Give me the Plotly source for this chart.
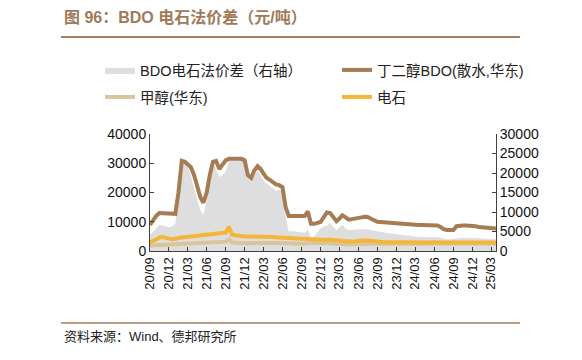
import plotly.graph_objects as go

# ---------------- data (semi-monthly, 2020-09 .. 2025-03) ----------------
dates = []
for yr in range(2020, 2026):
    for mo in range(1, 13):
        if (yr == 2020 and mo < 9) or (yr == 2025 and mo > 3):
            continue
        dates.append(f"{yr}-{mo:02d}-01")
        dates.append(f"{yr}-{mo:02d}-16")
dates[-1] = "2025-03-25"

bdo = [8900, 10500, 12000, 13000, 13000, 12900, 13000, 12800, 12700, 20000,
       30800, 30500, 29800, 28700, 26000, 22000, 18500, 16500, 20000, 26000,
       30500, 30800, 28000, 29500, 31000, 31500, 31500, 31500, 31500, 31500,
       31000, 26000, 25000, 27500, 29000, 28000, 26500, 25000, 24300, 23500,
       22800, 22500, 21800, 15000, 12000, 12000, 12000, 12000, 12000, 12000,
       13500, 9300, 9300, 9600, 9900, 11500, 13200, 13000, 11500, 10200,
       11000, 12200, 11500, 10700, 10900, 11000, 11300, 11500, 11700, 11600,
       11000, 10500, 10000, 9900, 9800, 9600, 9500, 9400, 9400, 9300,
       9200, 9100, 9000, 8900, 8900, 8900, 8900, 8900, 8900, 8900,
       8800, 8700, 8200, 7500, 7200, 7200, 7200, 8500, 8700, 8700,
       8700, 8700, 8600, 8500, 8200, 8100, 8000, 7900, 7800, 7700]

carbide = [3000, 3400, 3900, 4600, 4800, 4500, 4100, 4000, 4200, 4500,
           4600, 4700, 4800, 4900, 5000, 5100, 5200, 5300, 5400, 5500,
           5600, 5700, 5800, 5900, 6300, 8300, 5600, 5400, 5200, 5100,
           5000, 5000, 5000, 5100, 5000, 5000, 4900, 4900, 4900, 4800,
           4700, 4600, 4500, 4400, 4300, 4300, 4300, 4300, 4200, 4200,
           4100, 4100, 4000, 4000, 3900, 3800, 3900, 3900, 3800, 3700,
           3600, 3400, 3300, 3200, 3100, 3200, 3500, 3600, 3700, 3600,
           3500, 3300, 3200, 3100, 3000, 3000, 3000, 3000, 3100, 3100,
           3100, 3000, 3000, 3000, 2900, 2900, 2900, 2900, 2900, 2900,
           2900, 2900, 2900, 2900, 2900, 2900, 2900, 2900, 2900, 2900,
           2900, 2900, 2900, 2900, 2900, 2900, 2900, 2900, 2900, 2900]

methanol = [1900, 1950, 2000, 2050, 2100, 2200, 2300, 2350, 2400, 2350,
            2300, 2350, 2400, 2450, 2500, 2500, 2500, 2550, 2600, 2650,
            2700, 2750, 2800, 3000, 3200, 4000, 3000, 2800, 2700, 2650,
            2600, 2650, 2700, 2750, 2800, 2800, 2800, 2750, 2700, 2700,
            2700, 2650, 2600, 2550, 2500, 2500, 2500, 2500, 2500, 2600,
            2800, 2750, 2700, 2750, 2800, 2750, 2700, 2600, 2500, 2450,
            2400, 2350, 2300, 2250, 2200, 2300, 2400, 2450, 2500, 2500,
            2500, 2500, 2500, 2450, 2400, 2400, 2400, 2450, 2500, 2500,
            2500, 2450, 2400, 2400, 2400, 2400, 2400, 2450, 2500, 2500,
            2500, 2500, 2500, 2450, 2400, 2400, 2400, 2450, 2500, 2500,
            2500, 2550, 2600, 2600, 2600, 2650, 2700, 2650, 2600, 2600]

spread = [4100, 5000, 6000, 6700, 6500, 6200, 6000, 6300, 7000, 15000,
          23000, 23500, 21500, 19500, 16000, 13000, 10500, 9300, 13000, 18500,
          22400, 21000, 19000, 19500, 20500, 22800, 23500, 23700, 23700, 23600,
          23300, 19000, 17800, 19500, 20600, 19500, 18000, 17300, 16500, 16000,
          15500, 15600, 15700, 9000, 5000, 5100, 5000, 5000, 4800, 4700,
          5500, 3400, 3800, 4800, 5800, 6300, 6500, 7100, 6200, 5400,
          6000, 6700, 5800, 5400, 5400, 5500, 5500, 5600, 5600, 5600,
          5300, 5200, 5100, 5000, 4800, 4600, 4500, 4300, 4200, 4100,
          4000, 3900, 3800, 3700, 3600, 3600, 3600, 3600, 3600, 3600,
          3600, 3600, 3400, 3200, 3000, 3000, 3100, 3300, 3400, 3400,
          3400, 3400, 3300, 3300, 3300, 3200, 3200, 3100, 3100, 3000]

left_ticks = [0, 10000, 20000, 30000, 40000]
right_ticks = [0, 5000, 10000, 15000, 20000, 25000, 30000]

# ---------------- styling ----------------
BROWN = "#a67c55"
TAN = "#d8c59c"
YELLOW = "#f4b63a"
GRAY = "#dedede"
AX = "#404040"
FONT = "Liberation Sans, Arial, Noto Sans CJK SC, sans-serif"
CJK = "Liberation Sans, Noto Sans CJK SC, sans-serif"

W, H = 582, 360
L, R, T, B = 150, 86, 134, 109
PW, PH = W - L - R, H - T - B


def px(xp):
    return (xp - L) / PW


def py(yp):
    return (H - B - yp) / PH


fig = go.Figure()
# spread on the (right-side) base axis "y"; price lines on overlaying left axis "y2"
fig.add_trace(go.Scatter(x=dates, y=spread, name="BDO电石法价差（右轴）", yaxis="y",
                         fill="tozeroy", fillcolor=GRAY, mode="lines",
                         line=dict(width=0, color=GRAY), legend="legend"))
fig.add_trace(go.Scatter(x=dates, y=bdo, name="丁二醇BDO(散水,华东)", mode="lines",
                         yaxis="y2", line=dict(width=4, color=BROWN), legend="legend"))
fig.add_trace(go.Scatter(x=dates, y=methanol, name="甲醇(华东)", mode="lines",
                         yaxis="y2", line=dict(width=4, color=TAN), legend="legend2"))
fig.add_trace(go.Scatter(x=dates, y=carbide, name="电石", mode="lines",
                         yaxis="y2", line=dict(width=4, color=YELLOW), legend="legend2"))

axis_common = dict(showgrid=False, zeroline=False, showline=True, linecolor=AX,
                   linewidth=1, ticks="inside", ticklen=4, tickcolor=AX)

legend_common = dict(orientation="h", xanchor="left", yanchor="middle",
                     font=dict(family=CJK, size=14.5, color="#222"),
                     bgcolor="rgba(0,0,0,0)", entrywidth=192, entrywidthmode="pixels",
                     itemwidth=30)

fig.update_layout(
    width=W, height=H,
    margin=dict(l=L, r=R, t=T, b=B, autoexpand=False),
    paper_bgcolor="white", plot_bgcolor="white",
    font=dict(family=FONT, color="#222"),
    showlegend=True,
    legend=dict(x=px(100), y=py(70), **legend_common),
    legend2=dict(x=px(100), y=py(97), **legend_common),
    xaxis=dict(type="date", range=["2020-09-01", "2025-03-25"], tick0="2020-09-01",
               dtick="M3", tickformat="%y/%m", tickangle=-90,
               tickfont=dict(size=13, family=FONT, color="#111"), **axis_common),
    yaxis=dict(range=[0, 30000], tickvals=right_ticks, tickformat="d", side="right",
               tickfont=dict(size=14, family=FONT, color="#111"), **axis_common),
    yaxis2=dict(range=[0, 40000], tickvals=left_ticks, tickformat="d", overlaying="y",
                side="left", tickfont=dict(size=14, family=FONT, color="#111"),
                **axis_common),
    annotations=[
        dict(text="<b>图 96：BDO 电石法价差（元/吨）</b>", xref="paper", yref="paper",
             x=px(62), y=py(17), xanchor="left", yanchor="middle", showarrow=False,
             font=dict(family=CJK, size=16, color="#a07a58")),
        dict(text="资料来源：Wind、德邦研究所", xref="paper", yref="paper",
             x=px(62), y=py(336), xanchor="left", yanchor="middle", showarrow=False,
             font=dict(family=CJK, size=13, color="#222")),
    ],
    shapes=[
        dict(type="line", xref="paper", yref="paper", x0=px(61), x1=px(520),
             y0=py(37), y1=py(37), line=dict(color="#a57f5f", width=2)),
        dict(type="line", xref="paper", yref="paper", x0=px(61), x1=px(520),
             y0=py(323), y1=py(323), line=dict(color="#a57f5f", width=1.5)),
    ],
)

fig.write_html("out.html", config={"displayModeBar": False},
               post_script="document.body.style.margin='0';")
